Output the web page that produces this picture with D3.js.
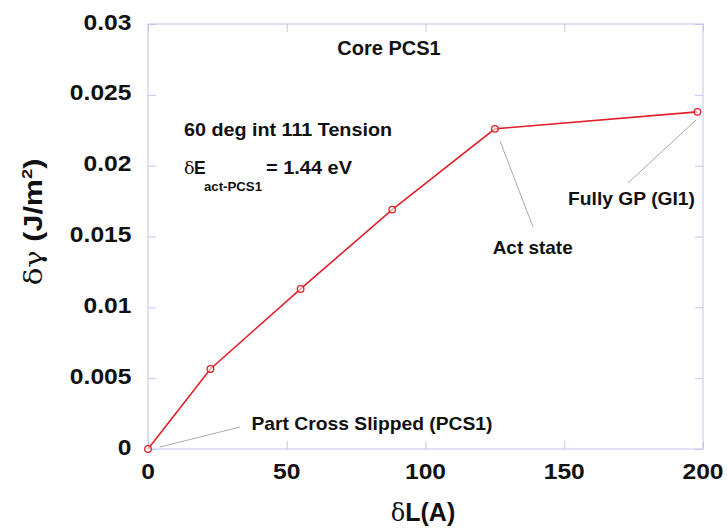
<!DOCTYPE html>
<html>
<head>
<meta charset="utf-8">
<script src="https://cdn.jsdelivr.net/npm/d3@7"></script>
<style>
  html, body { margin: 0; padding: 0; background: #fff; }
  svg { display: block; font-family: "Liberation Sans", Arial, sans-serif; }
</style>
</head>
<body>
<svg id="chart" width="727" height="529"></svg>
<script>
// Stacking-fault energy change along the cross-slip path
const deltaL = [0, 22.5, 55, 88, 125, 198];
const deltaGamma = [0, 0.00565, 0.0113, 0.0169, 0.0226, 0.0238];

const xTicks = [0, 50, 100, 150, 200];
const yTicks = [0, 0.005, 0.01, 0.015, 0.02, 0.025, 0.03];
const yTickLabels = ["0", "0.005", "0.01", "0.015", "0.02", "0.025", "0.03"];

// Annotation callouts: which point each one refers to and its text
const callouts = [
  { i: 0, text: "Part Cross Slipped (PCS1)" },
  { i: 4, text: "Act state" },
  { i: 5, text: "Fully GP (GI1)" }
];

const svg = d3.select("#chart");
const margin = { left: 148, right: 24, top: 24, bottom: 80 };
const W = 727, H = 529;
const x = d3.scaleLinear().domain([0, 200]).range([margin.left, W - margin.right]);
const y = d3.scaleLinear().domain([0, 0.03]).range([H - margin.bottom, margin.top]);

const axisColor = "#c3c3ee";
const inkColor = "#111";
const tickLen = 8;
const stretch = 1.12; // labels are set slightly wide

// frame
svg.append("rect")
  .attr("x", x(0)).attr("y", y(0.03))
  .attr("width", x(200) - x(0)).attr("height", y(0) - y(0.03))
  .attr("fill", "none").attr("stroke", axisColor).attr("stroke-width", 1);

// inward ticks on all four sides
const bottomAxis = d3.axisBottom(x).tickValues(xTicks).tickSize(-tickLen).tickFormat("");
const topAxis = d3.axisTop(x).tickValues(xTicks).tickSize(-tickLen).tickFormat("");
const leftAxis = d3.axisLeft(y).tickValues(yTicks).tickSize(-tickLen).tickFormat("");
const rightAxis = d3.axisRight(y).tickValues(yTicks).tickSize(-tickLen).tickFormat("");

function styleAxis(g) {
  g.select(".domain").remove();
  g.selectAll(".tick line").attr("stroke", axisColor);
}
svg.append("g").attr("transform", `translate(0,${y(0)})`).call(bottomAxis).call(styleAxis);
svg.append("g").attr("transform", `translate(0,${y(0.03)})`).call(topAxis).call(styleAxis);
svg.append("g").attr("transform", `translate(${x(0)},0)`).call(leftAxis).call(styleAxis);
svg.append("g").attr("transform", `translate(${x(200)},0)`).call(rightAxis).call(styleAxis);

// tick labels
svg.append("g").selectAll("text").data(xTicks).join("text")
  .attr("transform", d => `translate(${x(d)},${y(0) + 29.5}) scale(${stretch},1)`)
  .attr("text-anchor", "middle")
  .attr("font-size", 22).attr("font-weight", "bold").attr("fill", inkColor)
  .text(d => d);

svg.append("g").selectAll("text").data(yTicks).join("text")
  .attr("transform", d => `translate(${x(0) - 16.5},${y(d) + 5.5}) scale(${stretch},1)`)
  .attr("text-anchor", "end")
  .attr("font-size", 22).attr("font-weight", "bold").attr("fill", inkColor)
  .text((d, i) => yTickLabels[i]);

// axis titles
const xt = svg.append("text")
  .attr("transform", `translate(423,521)`)
  .attr("text-anchor", "middle")
  .attr("font-size", 25).attr("fill", inkColor);
xt.append("tspan").attr("font-family", "'DejaVu Serif', serif").attr("font-size", 24).text("δ");
xt.append("tspan").attr("font-weight", "bold").text("L(A)");

const yt = svg.append("text")
  .attr("transform", "translate(42,222) rotate(-90) scale(1.22,1)")
  .attr("text-anchor", "middle")
  .attr("font-size", 25).attr("fill", inkColor);
yt.append("tspan").attr("font-family", "'DejaVu Serif', serif").attr("font-size", 24).text("δγ");
yt.append("tspan").attr("font-weight", "bold").text(" (J/m");
yt.append("tspan").attr("font-weight", "bold").attr("font-size", 15).attr("dy", -10).text("2");
yt.append("tspan").attr("font-weight", "bold").attr("dy", 10).text(")");

// callout leader lines and labels
const leaderColor = "#a8a8a8";
const calloutGeom = [
  { lx1: 160, ly1: 447, lx2: 240, ly2: 427, tx: 251.5, ty: 429.5, w: 241, anchor: "start" },
  { lx1: 500, ly1: 141, lx2: 533, ly2: 227, tx: 492.7, ty: 254, w: 80, anchor: "start" },
  { lx1: 696, ly1: 120, lx2: 628, ly2: 183, tx: 568, ty: 205, w: 127, anchor: "start" }
];
callouts.forEach((c, k) => {
  const g = calloutGeom[k];
  svg.append("line")
    .attr("x1", g.lx1).attr("y1", g.ly1).attr("x2", g.lx2).attr("y2", g.ly2)
    .attr("stroke", leaderColor).attr("stroke-width", 1);
  svg.append("text")
    .attr("x", g.tx).attr("y", g.ty).attr("text-anchor", g.anchor)
    .attr("textLength", g.w).attr("lengthAdjust", "spacingAndGlyphs")
    .attr("font-size", 18.5).attr("font-weight", "bold").attr("fill", inkColor)
    .text(c.text);
});

// data line
const line = d3.line().x((d, i) => x(deltaL[i])).y(d => y(d));
svg.append("path")
  .datum(deltaGamma)
  .attr("d", line)
  .attr("fill", "none").attr("stroke", "#e0202a").attr("stroke-width", 1.6);

svg.append("g").selectAll("circle").data(deltaGamma).join("circle")
  .attr("cx", (d, i) => x(deltaL[i])).attr("cy", d => y(d))
  .attr("r", 3.3)
  .attr("fill", "#fff").attr("fill-opacity", 0.6)
  .attr("stroke", "#e0202a").attr("stroke-width", 1.3);

// title and inset notes
svg.append("text")
  .attr("x", 389).attr("y", 55).attr("text-anchor", "middle")
  .attr("font-size", 20).attr("font-weight", "bold").attr("fill", inkColor)
  .text("Core PCS1");

svg.append("text")
  .attr("x", 184).attr("y", 135.5)
  .attr("textLength", 208).attr("lengthAdjust", "spacingAndGlyphs")
  .attr("font-size", 17.5).attr("font-weight", "bold").attr("fill", inkColor)
  .text("60 deg int 111 Tension");

const note = svg.append("g").attr("fill", inkColor);
note.append("text").attr("x", 184).attr("y", 173.5)
  .attr("font-family", "'DejaVu Serif', serif").attr("font-size", 17.5).text("δ");
note.append("text").attr("x", 194).attr("y", 173.5)
  .attr("font-weight", "bold").attr("font-size", 17.5).text("E");
note.append("text").attr("x", 204).attr("y", 191)
  .attr("textLength", 58).attr("lengthAdjust", "spacingAndGlyphs")
  .attr("font-weight", "bold").attr("font-size", 13).text("act-PCS1");
note.append("text").attr("x", 266).attr("y", 173.5)
  .attr("textLength", 86).attr("lengthAdjust", "spacingAndGlyphs")
  .attr("font-weight", "bold").attr("font-size", 17.5).text("= 1.44 eV");
</script>
</body>
</html>
